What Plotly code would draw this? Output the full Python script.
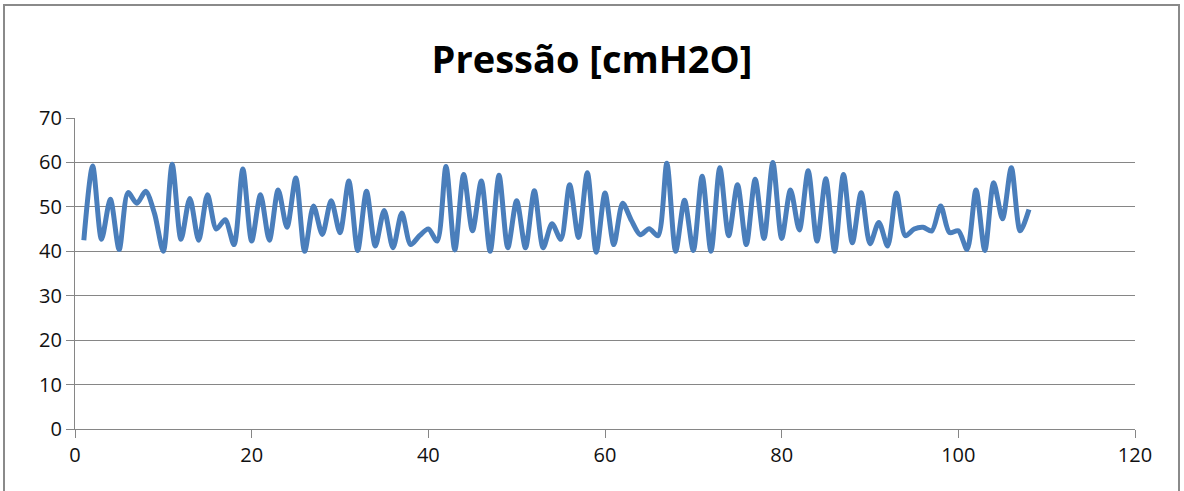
import plotly.graph_objects as go

x_vals = list(range(1, 109))
pressao = [
    42.5, 59.2, 42.7, 51.7, 40.4, 53.2, 50.8, 53.5, 48.5, 40.0,
    59.6, 42.7, 51.9, 42.5, 52.7, 45.0, 47.1, 41.5, 58.5, 42.3,
    52.7, 42.5, 53.8, 45.4, 56.5, 40.0, 50.2, 43.8, 51.4, 44.2,
    55.8, 40.2, 53.5, 41.2, 49.2, 40.8, 48.6, 41.5, 43.5, 45.0,
    42.3, 59.1, 40.3, 57.3, 44.6, 55.8, 40.0, 57.1, 40.8, 51.4,
    40.8, 53.6, 40.8, 46.2, 42.7, 55.0, 43.1, 57.7, 39.8, 53.1,
    41.5, 50.8, 46.9, 43.7, 45.1, 43.5, 59.8, 40.0, 51.5, 40.2,
    56.9, 40.0, 58.8, 43.5, 55.0, 41.5, 56.2, 42.9, 60.0, 42.9,
    53.8, 44.8, 58.1, 42.3, 56.3, 40.0, 57.3, 41.9, 53.2, 41.7,
    46.5, 41.2, 53.1, 43.5, 45.0, 45.4, 44.6, 50.2, 44.2, 44.6,
    40.4, 53.8, 40.2, 55.4, 47.3, 58.8, 44.6, 49.4,
]
title_text = "Pressão [cmH2O]"
x_ticks = [0, 20, 40, 60, 80, 100, 120]
y_ticks = [0, 10, 20, 30, 40, 50, 60, 70]

fig = go.Figure()
fig.add_trace(go.Scatter(
    x=x_vals, y=pressao, mode="lines",
    line=dict(color="#4A7EBB", width=5, shape="spline", smoothing=0.8),
    showlegend=False, hoverinfo="skip",
))

fig.update_layout(
    width=1184, height=491,
    margin=dict(l=75, r=49, t=118, b=62),
    paper_bgcolor="white", plot_bgcolor="white",
    title=dict(text="<b>" + title_text + "</b>", x=0.5, xanchor="center",
               y=0.878, yanchor="middle",
               font=dict(family="Open Sans", size=38, color="black")),
    font=dict(family="Open Sans", size=20, color="#111111"),
    xaxis=dict(range=[0, 120], tickvals=x_ticks, showgrid=False, zeroline=False,
               showline=True, linecolor="#868686", linewidth=1.3,
               ticks="outside", ticklen=8, tickcolor="#868686", tickwidth=1.3),
    yaxis=dict(range=[0, 70], tickvals=y_ticks, showgrid=True, gridcolor="#868686",
               gridwidth=1.3, zeroline=False,
               showline=True, linecolor="#868686", linewidth=1.3,
               ticks="outside", ticklen=8, tickcolor="#868686", tickwidth=1.3),
    shapes=[dict(type="rect", xref="paper", yref="paper",
                 x0=(4 - 75) / 1060, x1=(1179 - 75) / 1060,
                 y0=-0.4, y1=(429 - 5) / 311,
                 line=dict(color="#8a8a8a", width=2), layer="below")],
)

fig.write_html("out.html")
